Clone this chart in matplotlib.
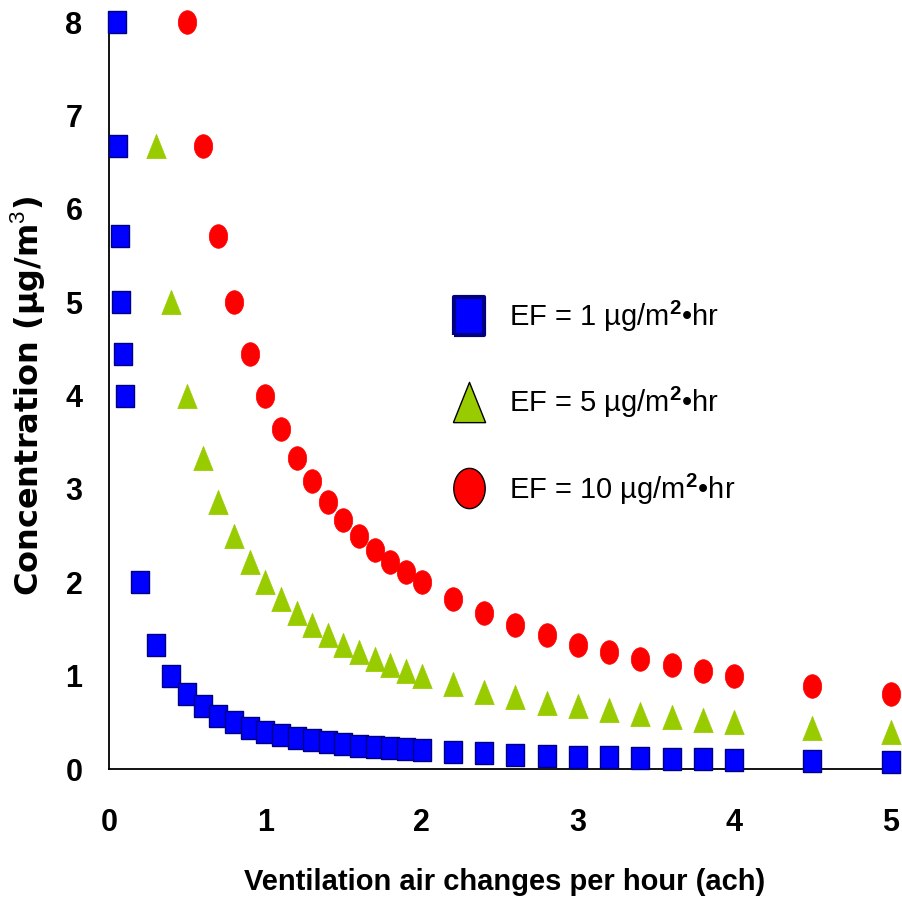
import matplotlib
matplotlib.use('Agg')
import matplotlib.pyplot as plt
from matplotlib.lines import Line2D
import numpy as np

plt.rcParams['font.family'] = ['Liberation Sans', 'DejaVu Sans']
plt.rcParams['mathtext.fontset'] = 'custom'
plt.rcParams['mathtext.rm'] = 'Liberation Sans'
plt.rcParams['mathtext.bf'] = 'Liberation Sans:bold'

# ventilation rate (ach) and concentration (ug/m3) for each emission factor
ach_ef1 = [0.05, 0.06, 0.07, 0.08, 0.09, 0.1, 0.2, 0.3, 0.4, 0.5, 0.6, 0.7, 0.8, 0.9,
           1.0, 1.1, 1.2, 1.3, 1.4, 1.5, 1.6, 1.7, 1.8, 1.9, 2.0,
           2.2, 2.4, 2.6, 2.8, 3.0, 3.2, 3.4, 3.6, 3.8, 4.0, 4.5, 5.0]
conc_ef1 = [8.0, 6.67, 5.71, 5.0, 4.44, 4.0, 2.0, 1.33, 1.0, 0.8, 0.67, 0.57, 0.5, 0.44,
            0.4, 0.36, 0.33, 0.31, 0.29, 0.27, 0.25, 0.24, 0.22, 0.21, 0.2,
            0.18, 0.17, 0.15, 0.14, 0.13, 0.125, 0.12, 0.11, 0.105, 0.1, 0.09, 0.08]

ach_ef5 = [0.3, 0.4, 0.5, 0.6, 0.7, 0.8, 0.9, 1.0, 1.1, 1.2, 1.3, 1.4, 1.5, 1.6,
           1.7, 1.8, 1.9, 2.0, 2.2, 2.4, 2.6, 2.8, 3.0, 3.2, 3.4, 3.6, 3.8, 4.0, 4.5, 5.0]
conc_ef5 = [6.67, 5.0, 4.0, 3.33, 2.86, 2.5, 2.22, 2.0, 1.82, 1.67, 1.54, 1.43, 1.33, 1.25,
            1.18, 1.11, 1.05, 1.0, 0.91, 0.83, 0.77, 0.71, 0.67, 0.63, 0.59, 0.56, 0.53, 0.5, 0.44, 0.4]

ach_ef10 = [0.5, 0.6, 0.7, 0.8, 0.9, 1.0, 1.1, 1.2, 1.3, 1.4, 1.5, 1.6, 1.7, 1.8,
            1.9, 2.0, 2.2, 2.4, 2.6, 2.8, 3.0, 3.2, 3.4, 3.6, 3.8, 4.0, 4.5, 5.0]
conc_ef10 = [8.0, 6.67, 5.71, 5.0, 4.44, 4.0, 3.64, 3.33, 3.08, 2.86, 2.67, 2.5, 2.35, 2.22,
             2.11, 2.0, 1.82, 1.67, 1.54, 1.43, 1.33, 1.25, 1.18, 1.11, 1.05, 1.0, 0.89, 0.8]

labels = [r'EF = 1 µg/m$^\mathbf{2}$•hr',
          r'EF = 5 µg/m$^\mathbf{2}$•hr',
          r'EF = 10 µg/m$^\mathbf{2}$•hr']
x_ticks = [0, 1, 2, 3, 4, 5]
y_ticks = [0, 1, 2, 3, 4, 5, 6, 7, 8]

# markers in the original are slightly taller than wide
sq = [(-0.78, -1), (0.78, -1), (0.78, 1), (-0.78, 1), (-0.78, -1)]
tri = [(-0.8, -1), (0.8, -1), (0, 1), (-0.8, -1)]
t = np.linspace(0, 2 * np.pi, 60)
ell = list(zip(0.78 * np.cos(t), np.sin(t)))

blue, navy, green, red = '#0000FF', '#000080', '#99CC00', '#FF0000'

fig = plt.figure(figsize=(9.02, 8.99), dpi=100)
ax = fig.add_axes([0.1208, 0.1446, 0.877, 0.8309])

ax.plot(ach_ef1, conc_ef1, linestyle='none', marker=sq, markersize=16.5,
        markerfacecolor=blue, markeredgecolor=navy, markeredgewidth=1, clip_on=False, zorder=3)
ax.plot(ach_ef5, conc_ef5, linestyle='none', marker=tri, markersize=17.5,
        markerfacecolor=green, markeredgecolor=green, markeredgewidth=0.5, clip_on=False, zorder=3)
ax.plot(ach_ef10, conc_ef10, linestyle='none', marker=ell, markersize=17,
        markerfacecolor=red, markeredgecolor=red, markeredgewidth=0.5, clip_on=False, zorder=3)

ax.set_xlim(0, 5.06)
ax.set_ylim(0, 8)
ax.set_xticks(x_ticks)
ax.set_yticks(y_ticks)
ax.tick_params(axis='x', length=0, pad=28)
ax.tick_params(axis='y', length=0, pad=19)
for lab in ax.get_xticklabels() + ax.get_yticklabels():
    lab.set_fontweight('bold')
    lab.set_fontsize(22)
for s in ['top', 'right']:
    ax.spines[s].set_visible(False)
for s in ['left', 'bottom']:
    ax.spines[s].set_linewidth(1.3)

ax.set_xlabel('Ventilation air changes per hour (ach)', fontsize=21, fontweight='bold', labelpad=22)
ax.set_ylabel('Concentration (µg/m$^3$)', fontsize=23, fontweight='bold',
              family='DejaVu Sans', labelpad=13)

handles = [
    Line2D([], [], linestyle='none', marker=sq, markersize=27, markerfacecolor=blue,
           markeredgecolor=navy, markeredgewidth=3),
    Line2D([], [], linestyle='none', marker=tri, markersize=29, markerfacecolor=green,
           markeredgecolor='black', markeredgewidth=1),
    Line2D([], [], linestyle='none', marker=ell, markersize=29, markerfacecolor=red,
           markeredgecolor='black', markeredgewidth=1),
]
fig.legend(handles, labels, loc='center left', bbox_to_anchor=(0.471, 0.552),
           frameon=False, fontsize=21, borderpad=0, handlelength=2,
           handletextpad=0.4, labelspacing=1.75)

fig.savefig('out.png', dpi=100)
